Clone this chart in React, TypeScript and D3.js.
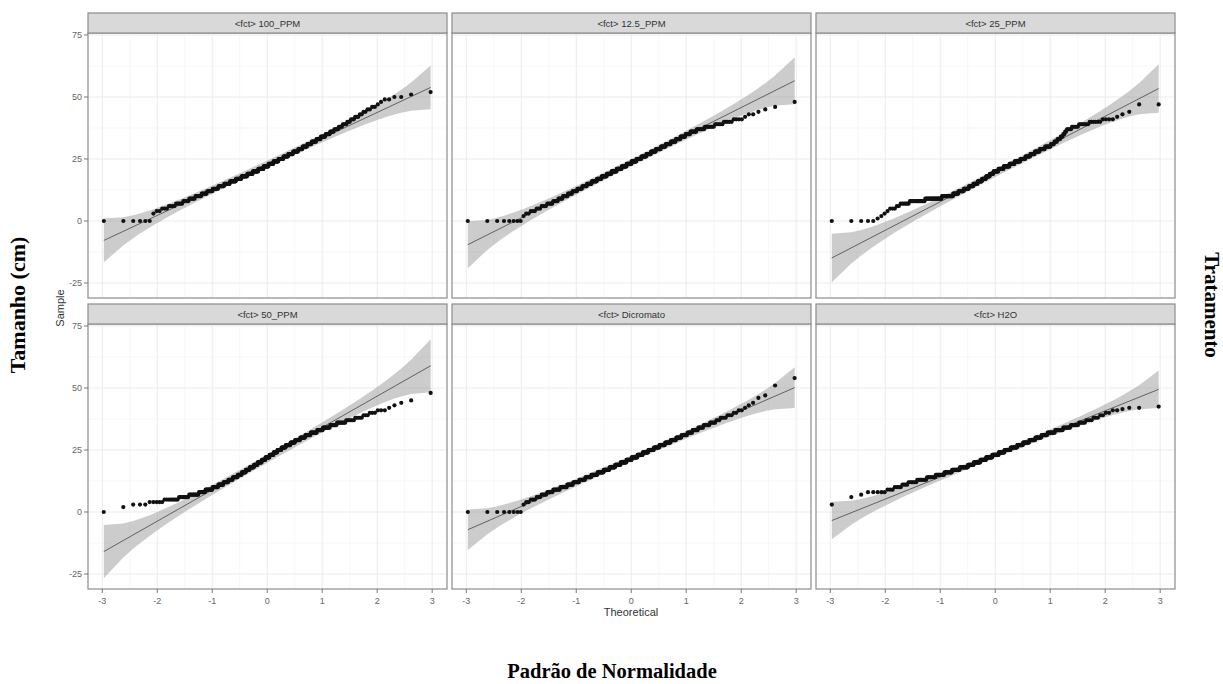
import React from 'react'
import * as d3 from 'd3'

// facet names, in the order of the panels (left to right, top to bottom)
const treatments = ['100_PPM', '12.5_PPM', '25_PPM', '50_PPM', 'Dicromato', 'H2O']

// plant height (cm) frequency tables: [height, number of plants]
const ppm100 = [
  [0, 6], [3, 1], [4, 2], [5, 3], [6, 4], [7, 5], [8, 5], [9, 6], [10, 7], [11, 7],
  [12, 8], [13, 9], [14, 10], [15, 11], [16, 12], [17, 12], [18, 13], [19, 13], [20, 13],
  [21, 13], [22, 12], [23, 12], [24, 12], [25, 12], [26, 11], [27, 11], [28, 11], [29, 9],
  [30, 9], [31, 8], [32, 8], [33, 7], [34, 7], [35, 6], [36, 5], [37, 5], [38, 4], [39, 4],
  [40, 3], [41, 3], [42, 3], [43, 2], [44, 2], [45, 2], [46, 2], [47, 1], [48, 1], [49, 2],
  [50, 2], [51, 1], [52, 1],
]
const ppm12_5 = [
  [0, 8], [2, 1], [3, 2], [4, 3], [5, 3], [6, 4], [7, 5], [8, 5], [9, 5], [10, 6], [11, 6],
  [12, 7], [13, 8], [14, 8], [15, 9], [16, 10], [17, 10], [18, 11], [19, 11], [20, 12],
  [21, 12], [22, 12], [23, 12], [24, 12], [25, 12], [26, 12], [27, 11], [28, 11], [29, 11],
  [30, 10], [31, 10], [32, 9], [33, 8], [34, 8], [35, 7], [36, 8], [37, 9], [38, 9], [39, 6],
  [40, 5], [41, 4], [42, 1], [43, 2], [44, 1], [45, 1], [46, 1], [48, 1],
]
const ppm25 = [
  [0, 5], [1, 1], [2, 1], [3, 1], [4, 1], [5, 3], [6, 2], [7, 6], [8, 14], [9, 22], [10, 19],
  [11, 10], [12, 11], [13, 11], [14, 10], [15, 10], [16, 10], [17, 10], [18, 9], [19, 9],
  [20, 12], [21, 13], [22, 14], [23, 12], [24, 13], [25, 11], [26, 10], [27, 9], [28, 9],
  [29, 9], [30, 9], [31, 5], [32, 4], [33, 4], [34, 3], [35, 2], [36, 2], [37, 5], [38, 6],
  [39, 7], [40, 6], [41, 4], [42, 1], [43, 1], [44, 1], [47, 2],
]
const ppm50 = [
  [0, 1], [2, 1], [3, 3], [4, 5], [5, 8], [6, 8], [7, 10], [8, 8], [9, 10], [10, 9], [11, 9],
  [12, 9], [13, 9], [14, 10], [15, 9], [16, 9], [17, 9], [18, 10], [19, 9], [20, 10], [21, 9],
  [22, 10], [23, 10], [24, 9], [25, 10], [26, 10], [27, 11], [28, 10], [29, 11], [30, 10],
  [31, 10], [32, 11], [33, 9], [34, 10], [35, 8], [36, 9], [37, 7], [38, 5], [39, 3], [40, 3],
  [41, 3], [42, 1], [43, 1], [44, 1], [45, 1], [48, 1],
]
const dicromato = [
  [0, 8], [3, 1], [4, 2], [5, 3], [6, 3], [7, 4], [8, 5], [9, 7], [10, 8], [11, 8], [12, 9],
  [13, 10], [14, 11], [15, 12], [16, 13], [17, 13], [18, 13], [19, 13], [20, 14], [21, 13],
  [22, 14], [23, 13], [24, 13], [25, 13], [26, 12], [27, 12], [28, 11], [29, 10], [30, 9],
  [31, 9], [32, 7], [33, 7], [34, 6], [35, 6], [36, 5], [37, 3], [38, 4], [39, 3], [40, 2],
  [41, 2], [42, 1], [43, 1], [44, 1], [46, 1], [47, 1], [51, 1], [54, 1],
]
const h2o = [
  [3, 1], [6, 1], [7, 1], [8, 5], [9, 3], [10, 4], [11, 4], [12, 7], [13, 10], [14, 11],
  [15, 13], [16, 13], [17, 15], [18, 17], [19, 13], [20, 15], [21, 14], [22, 15], [23, 16],
  [24, 14], [25, 15], [26, 15], [27, 13], [28, 13], [29, 12], [30, 11], [31, 10], [32, 11],
  [33, 10], [34, 8], [35, 7], [36, 5], [37, 4], [38, 3], [39, 2], [40, 2], [41, 2], [41.5, 1],
  [42, 2], [42.5, 1],
]
const tables = [ppm100, ppm12_5, ppm25, ppm50, dicromato, h2o]

const xTicks = [-3, -2, -1, 0, 1, 2, 3]
const yTicks = [-25, 0, 25, 50, 75]

// layout
const W = 1223
const H = 684
const colLeft = [88, 452, 816]
const panelW = 359
const stripTop = [13, 304]
const stripH = 20
const panelH = 265

// inverse normal cdf (Acklam)
function qnorm(p: number): number {
  const a = [-39.69683028665376, 220.9460984245205, -275.9285104469687, 138.357751867269, -30.66479806614716, 2.506628277459239]
  const b = [-54.47609879822406, 161.5858368580409, -155.6989798598866, 66.80131188771972, -13.28068155288572]
  const c = [-0.007784894002430293, -0.3223964580411365, -2.400758277161838, -2.549732539343734, 4.374664141464968, 2.938163982698783]
  const d = [0.007784695709041462, 0.3224671290700398, 2.445134137142996, 3.754408661907416]
  const lo = 0.02425
  if (p < lo || p > 1 - lo) {
    const q = Math.sqrt(-2 * Math.log(p < lo ? p : 1 - p))
    const v = (((((c[0] * q + c[1]) * q + c[2]) * q + c[3]) * q + c[4]) * q + c[5]) /
      ((((d[0] * q + d[1]) * q + d[2]) * q + d[3]) * q + 1)
    return p < lo ? v : -v
  }
  const q = p - 0.5
  const r = q * q
  return (((((a[0] * r + a[1]) * r + a[2]) * r + a[3]) * r + a[4]) * r + a[5]) * q /
    (((((b[0] * r + b[1]) * r + b[2]) * r + b[3]) * r + b[4]) * r + 1)
}
const dnorm = (x: number) => Math.exp(-x * x / 2) / Math.sqrt(2 * Math.PI)

// same stats as qqplotr: points, quartile line and pointwise 95% band
function qqStats(table: number[][]) {
  const sample = table.flatMap(([v, k]) => d3.range(k).map(() => v)).sort(d3.ascending)
  const n = sample.length
  const pts = sample.map((y, i) => {
    const p = (i + 0.5) / n
    return { x: qnorm(p), y, p }
  })
  const z1 = qnorm(0.25)
  const z3 = qnorm(0.75)
  const slope = (d3.quantile(sample, 0.75)! - d3.quantile(sample, 0.25)!) / (z3 - z1)
  const int = d3.quantile(sample, 0.25)! - slope * z1
  const zz = qnorm(0.975)
  const band = pts.map(d => {
    const fit = int + slope * d.x
    const se = (slope / dnorm(d.x)) * Math.sqrt((d.p * (1 - d.p)) / n)
    return { x: d.x, lo: fit - zz * se, hi: fit + zz * se }
  })
  return { pts, slope, int, band }
}

const sans = '"Liberation Sans", Arial, sans-serif'
const serif = '"Liberation Serif", "Times New Roman", serif'

function Panel({ idx }: { idx: number }) {
  const col = idx % 3
  const row = Math.floor(idx / 3)
  const left = colLeft[col]
  const sTop = stripTop[row]
  const top = sTop + stripH
  const bottom = top + panelH
  const x = d3.scaleLinear().domain([-3.26, 3.27]).range([left, left + panelW])
  const y = d3.scaleLinear().domain([-31.05, 75.8]).range([bottom, top])
  const { pts, slope, int, band } = qqStats(tables[idx])
  const area = d3.area<any>().x(d => x(d.x)).y0(d => y(d.lo)).y1(d => y(d.hi))
  const x0 = pts[0].x
  const x1 = pts[pts.length - 1].x
  const clipId = `clip${idx}`
  const minorX = d3.range(-2.5, 3, 1)
  const minorY = [-12.5, 12.5, 37.5, 62.5]

  return (
    <g>
      <defs>
        <clipPath id={clipId}>
          <rect x={left} y={top} width={panelW} height={panelH} />
        </clipPath>
      </defs>
      <rect x={left} y={top} width={panelW} height={panelH} fill="#fff" />
      {minorX.map(t => (
        <line key={'mx' + t} x1={x(t)} x2={x(t)} y1={top} y2={bottom} stroke="#f2f2f2" strokeWidth={0.6} />
      ))}
      {minorY.map(t => (
        <line key={'my' + t} x1={left} x2={left + panelW} y1={y(t)} y2={y(t)} stroke="#f2f2f2" strokeWidth={0.6} />
      ))}
      {xTicks.map(t => (
        <line key={'gx' + t} x1={x(t)} x2={x(t)} y1={top} y2={bottom} stroke="#ebebeb" strokeWidth={1} />
      ))}
      {yTicks.map(t => (
        <line key={'gy' + t} x1={left} x2={left + panelW} y1={y(t)} y2={y(t)} stroke="#ebebeb" strokeWidth={1} />
      ))}
      <g clipPath={`url(#${clipId})`}>
        <path d={area(band)!} fill="#9a9a9a" fillOpacity={0.5} />
        <line x1={x(x0)} x2={x(x1)} y1={y(int + slope * x0)} y2={y(int + slope * x1)} stroke="#555" strokeWidth={0.9} />
        {pts.map((d, i) => (
          <circle key={i} cx={x(d.x)} cy={y(d.y)} r={2.1} fill="#111" />
        ))}
      </g>
      <rect x={left} y={top} width={panelW} height={panelH} fill="none" stroke="#8c8c8c" strokeWidth={1.2} />
      <rect x={left} y={sTop} width={panelW} height={stripH} fill="#d9d9d9" stroke="#8c8c8c" strokeWidth={1.2} />
      <text x={left + panelW / 2} y={sTop + stripH / 2 + 3.5} textAnchor="middle" fontFamily={sans} fontSize={9.5} fill="#333">
        {'<fct> ' + treatments[idx]}
      </text>
      {col === 0 && yTicks.map(t => (
        <g key={'yt' + t}>
          <line x1={left - 4} x2={left} y1={y(t)} y2={y(t)} stroke="#777" />
          <text x={left - 6} y={y(t) + 3} textAnchor="end" fontFamily={sans} fontSize={9} fill="#666">{t}</text>
        </g>
      ))}
      {row === 1 && xTicks.map(t => (
        <g key={'xt' + t}>
          <line x1={x(t)} x2={x(t)} y1={bottom} y2={bottom + 4} stroke="#777" />
          <text x={x(t)} y={bottom + 15} textAnchor="middle" fontFamily={sans} fontSize={9} fill="#666">{t}</text>
        </g>
      ))}
    </g>
  )
}

export default function App() {
  return (
    <svg width={W} height={H} style={{ position: 'absolute', left: 0, top: 0, background: '#fff' }}>
      <rect width={W} height={H} fill="#fff" />
      {treatments.map((_, i) => <Panel key={i} idx={i} />)}
      <text transform="translate(64,308) rotate(-90)" textAnchor="middle" fontFamily={sans} fontSize={11} fill="#333">Sample</text>
      <text x={631} y={616} textAnchor="middle" fontFamily={sans} fontSize={11} fill="#333">Theoretical</text>
      <text transform="translate(25,305) rotate(-90)" textAnchor="middle" fontFamily={serif} fontWeight="bold" fontSize={22} fill="#000">Tamanho (cm)</text>
      <text transform="translate(1205,305) rotate(90)" textAnchor="middle" fontFamily={serif} fontWeight="bold" fontSize={21} fill="#000">Tratamento</text>
      <text x={612} y={678} textAnchor="middle" fontFamily={serif} fontWeight="bold" fontSize={20.5} fill="#000">Padrão de Normalidade</text>
    </svg>
  )
}
